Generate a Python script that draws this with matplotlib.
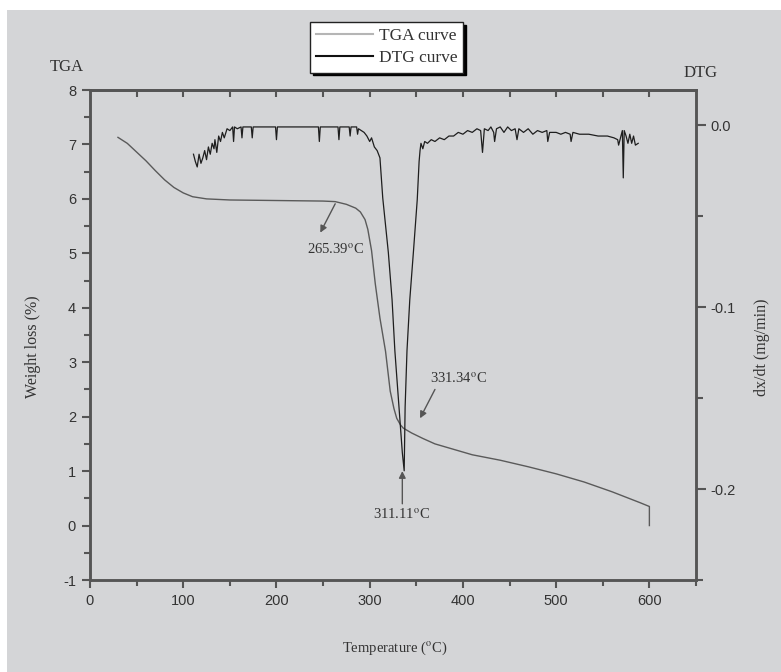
import matplotlib
matplotlib.use("Agg")
import matplotlib.pyplot as plt
import numpy as np
from matplotlib.lines import Line2D
from matplotlib.patches import Rectangle
from matplotlib.ticker import MultipleLocator

plt.rcParams['font.family'] = ['Liberation Serif', 'DejaVu Serif']
plt.rcParams['mathtext.fontset'] = 'stix'
plt.rcParams['axes.unicode_minus'] = False

# TGA curve (weight loss %, left axis)
tga_temp = [30, 40, 50, 60, 70, 80, 90, 100, 110, 125, 150, 200, 250, 263, 275,
            285, 290, 295, 298, 302, 306, 311, 317, 322, 326, 329, 333, 336, 345,
            357, 370, 386, 410, 440, 470, 500, 530, 560, 590, 600, 600]
tga_weight = [7.13, 7.02, 6.86, 6.7, 6.52, 6.35, 6.21, 6.11, 6.04, 6.0, 5.98, 5.97,
              5.96, 5.95, 5.9, 5.83, 5.76, 5.62, 5.44, 5.05, 4.44, 3.81, 3.2, 2.47,
              2.15, 1.97, 1.85, 1.79, 1.7, 1.6, 1.5, 1.42, 1.3, 1.2, 1.08, 0.95,
              0.8, 0.62, 0.42, 0.35, 0.0]

# DTG curve (dx/dt mg/min, right axis)
dtg_temp = [111, 113, 115, 117, 119, 121, 123, 125, 127, 129, 131, 133, 134, 136,
            138, 140, 142, 144, 147, 150, 153, 154, 155, 158, 162, 163, 164, 170,
            173, 174, 175, 199, 200, 201, 245, 246, 247, 266, 267, 268, 278, 279,
            280, 286, 287, 288, 291, 294, 297, 300, 302, 305, 308, 311, 314, 317,
            320, 324, 327, 331, 335, 337, 338, 340, 343, 347, 351, 353, 354, 355,
            357, 359, 362, 366, 370, 375, 380, 385, 390, 395, 400, 405, 410, 415,
            419, 421, 423, 427, 430, 433, 434, 436, 440, 444, 448, 452, 456, 458,
            460, 465, 470, 475, 480, 485, 490, 491, 493, 500, 505, 510, 515, 516,
            518, 525, 535, 545, 555, 562, 566, 567, 569, 571, 572, 573, 575, 577,
            579, 581, 583, 585, 588]
dtg_rate = [-0.016, -0.020, -0.023, -0.016, -0.021, -0.018, -0.014, -0.019, -0.012,
            -0.016, -0.010, -0.013, -0.008, -0.015, -0.006, -0.009, -0.004, -0.007,
            -0.002, -0.003, -0.001, -0.009, -0.001, -0.002, -0.001, -0.007, -0.001,
            -0.001, -0.001, -0.007, -0.001, -0.001, -0.008, -0.001, -0.001, -0.009,
            -0.001, -0.001, -0.008, -0.001, -0.001, -0.006, -0.001, -0.001, -0.005,
            -0.002, -0.003, -0.004, -0.006, -0.009, -0.007, -0.012, -0.014, -0.018,
            -0.040, -0.055, -0.070, -0.096, -0.124, -0.152, -0.180, -0.190, -0.155,
            -0.124, -0.096, -0.069, -0.041, -0.020, -0.014, -0.010, -0.013, -0.009,
            -0.010, -0.008, -0.009, -0.007, -0.008, -0.006, -0.006, -0.004, -0.005,
            -0.003, -0.004, -0.002, -0.003, -0.015, -0.002, -0.003, -0.001, -0.004,
            -0.009, -0.002, -0.001, -0.004, -0.001, -0.003, -0.002, -0.008, -0.002,
            -0.004, -0.002, -0.005, -0.003, -0.004, -0.003, -0.009, -0.004, -0.004,
            -0.005, -0.004, -0.005, -0.009, -0.004, -0.005, -0.005, -0.006, -0.006,
            -0.007, -0.008, -0.011, -0.007, -0.003, -0.029, -0.003, -0.006, -0.010,
            -0.005, -0.010, -0.006, -0.011, -0.010]

W, H = 781, 672
bg = '#d4d5d7'
axis_col = '#555555'
txt_col = '#333333'

fig = plt.figure(figsize=(W / 100, H / 100), dpi=100, facecolor='white')
fig.patches.append(Rectangle((7 / W, 0), 1, 1 - 10 / H, transform=fig.transFigure,
                             facecolor=bg, edgecolor='none', zorder=-10))

ax = fig.add_axes([90 / W, (H - 580) / H, (696 - 90) / W, (580 - 90) / H])
ax.patch.set_visible(False)
ax.plot(tga_temp, tga_weight, color='#5a5a5a', lw=1.0)
ax.set_xlim(0, 650)
ax.set_ylim(-1, 8)
ax.xaxis.set_major_locator(MultipleLocator(100))
ax.xaxis.set_minor_locator(MultipleLocator(50))
ax.yaxis.set_major_locator(MultipleLocator(1))
ax.yaxis.set_minor_locator(MultipleLocator(0.5))
ax.tick_params(which='major', direction='out', length=6, width=1.5, color=axis_col,
               labelsize=10.5, labelcolor=txt_col, pad=4)
ax.tick_params(which='minor', direction='out', length=4, width=1.5, color=axis_col)
for lab in ax.get_xticklabels() + ax.get_yticklabels():
    lab.set_family(['Liberation Sans', 'DejaVu Sans'])
for s in ax.spines.values():
    s.set_color(axis_col)
    s.set_linewidth(1.8)

top = ax.secondary_xaxis('top')
top.set_xticks(np.arange(50, 650, 50))
top.tick_params(direction='in', length=5, width=1.5, color=axis_col, labeltop=False)
top.spines['top'].set_color(axis_col)
top.spines['top'].set_linewidth(1.8)

ax2 = ax.twinx()
ax2.plot(dtg_temp, dtg_rate, color='#1e1e1e', lw=0.9)
ax2.set_ylim(-0.25, 0.0193)
ax2.yaxis.set_major_locator(MultipleLocator(0.1))
ax2.yaxis.set_minor_locator(MultipleLocator(0.05))
ax2.yaxis.set_major_formatter(matplotlib.ticker.FormatStrFormatter('%.1f'))
ax2.tick_params(which='major', direction='out', length=7, width=1.5, color=axis_col,
                labelsize=10.5, labelcolor=txt_col, pad=3)
ax2.tick_params(which='minor', direction='out', length=5, width=1.5, color=axis_col)
for lab in ax2.get_yticklabels():
    lab.set_family(['Liberation Sans', 'DejaVu Sans'])
for s in ax2.spines.values():
    s.set_color(axis_col)
    s.set_linewidth(1.8)

# annotations
arrow = dict(arrowstyle='-|>', color='#555555', lw=1.0, mutation_scale=10,
             shrinkA=0, shrinkB=0)
ax.annotate('', xy=(247, 5.38), xytext=(263, 5.91), arrowprops=arrow)
ax.text(263, 5.07, '265.39$^{\\mathrm{o}}$C', ha='center', va='center',
        fontsize=10.5, color=txt_col)
ax.annotate('', xy=(354, 1.97), xytext=(370, 2.5), arrowprops=arrow)
ax.text(395, 2.7, '331.34$^{\\mathrm{o}}$C', ha='center', va='center',
        fontsize=10.5, color=txt_col)
ax.annotate('', xy=(335, 1.0), xytext=(335, 0.4), arrowprops=arrow)
ax.text(334, 0.2, '311.11$^{\\mathrm{o}}$C', ha='center', va='center',
        fontsize=10.5, color=txt_col)

# outer labels
fig.text(33 / W, 1 - 347 / H, 'Weight loss (%)', rotation=90, ha='center',
         va='center', fontsize=11.5, color=txt_col)
fig.text(762 / W, 1 - 347 / H, 'dx/dt (mg/min)', rotation=90, ha='center',
         va='center', fontsize=11.5, color=txt_col)
fig.text(395 / W, 1 - 648 / H, 'Temperature ($^{\\mathrm{o}}$C)', ha='center',
         va='center', fontsize=10.5, color=txt_col)
fig.text(67 / W, 1 - 67 / H, 'TGA', ha='center', va='center', fontsize=12,
         color=txt_col)
fig.text(701 / W, 1 - 73 / H, 'DTG', ha='center', va='center', fontsize=12,
         color=txt_col)

handles = [Line2D([], [], color='#b5b5b5', lw=1.5),
           Line2D([], [], color='#111111', lw=1.5)]
leg = fig.legend(handles, ['TGA curve', 'DTG curve'], loc='upper left',
                 bbox_to_anchor=(310 / W, 1 - 22 / H), fontsize=12.5,
                 frameon=True, fancybox=False, shadow={'color': 'black', 'alpha': 1},
                 handlelength=3.3, handletextpad=0.3, borderpad=0.35,
                 labelspacing=0.35, borderaxespad=0)
leg.get_frame().set_edgecolor('#222222')
leg.get_frame().set_linewidth(1.0)
for t in leg.get_texts():
    t.set_color(txt_col)

fig.savefig('out.png', dpi=100, facecolor=fig.get_facecolor())
